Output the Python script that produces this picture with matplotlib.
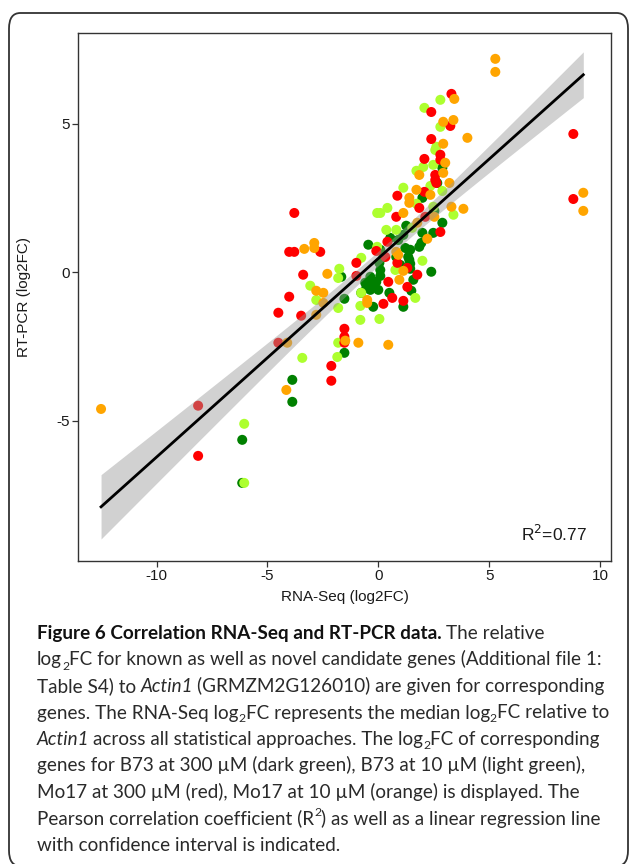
import numpy as np
import matplotlib
matplotlib.use("Agg")
import matplotlib.pyplot as plt
from matplotlib.patches import FancyBboxPatch

# ── data (RNA-Seq log2FC, RT-PCR log2FC) per condition ─────────────────────────
red_x = [3.30, 2.39, 3.25, 2.39, 2.80, 2.80, 2.08, 2.57, 2.57, 2.62, 0.86, 2.08,
         1.85, 0.81, 2.12, 2.80, 0.41, -0.09, 0.32, -0.99, 0.86, 1.31, 1.76, -3.39,
         -0.99, 0.45, 1.31, 0.63, 0.23, 1.13, -3.79, -4.02, -3.79, -2.62, -4.02,
         -4.51, -3.48, -1.53, -1.53, -1.53, -2.12, -2.12, -4.51, -8.13, -8.13,
         8.80, 8.80]
red_y = [6.01, 5.40, 4.93, 4.49, 3.96, 3.79, 3.82, 3.28, 3.11, 3.01, 2.58, 2.71,
         2.17, 1.87, 1.87, 1.36, 1.03, 0.72, 0.52, 0.32, 0.32, 0.15, -0.08, -0.08,
         -0.12, -0.32, -0.49, -0.86, -1.06, -0.96, 2.00, 0.69, 0.69, 0.69, -0.82,
         -1.36, -1.46, -1.90, -2.17, -2.37, -3.15, -3.65, -2.37, -4.49, -6.18,
         4.66, 2.47]

orange_x = [5.28, 5.28, 3.43, 2.93, 3.39, 4.02, 2.93, 3.02, 1.85, 2.93, 3.21, 1.72,
            1.40, 1.40, 3.30, 3.84, 1.13, 2.53, 1.76, 2.21, 0.90, 1.13, 0.95, -0.50,
            -0.50, 0.45, -0.90, -2.30, -3.34, -2.89, -2.89, -2.80, -2.48, -2.48,
            -2.80, -4.11, -4.15, -12.51, 9.25, 9.25, 2.35, 0.81, -1.49]
orange_y = [7.19, 6.75, 5.84, 5.07, 5.13, 4.53, 4.33, 3.69, 3.28, 3.35, 3.01, 2.78,
            2.51, 2.34, 2.21, 2.14, 2.00, 1.87, 1.67, 1.13, 0.59, 0.05, -0.25, -0.93,
            -1.03, -2.44, -2.37, -0.05, 0.79, 0.99, 0.82, -0.62, -0.69, -1.03,
            -1.43, -2.37, -3.96, -4.60, 2.68, 2.07, 2.61, 0.69, -2.30]

lgreen_x = [2.80, 2.08, 2.80, 2.62, 2.57, 2.48, 2.03, 1.72, 1.13, 2.35, 2.89, 1.72,
            2.48, 3.39, -0.05, 0.09, 0.41, 0.36, 0.81, 1.53, -0.05, -0.77, 1.99,
            0.77, -1.76, -1.81, -3.07, -2.80, -0.77, -0.81, -1.81, 1.67, 0.05,
            -0.81, -1.81, -1.85, -3.43, -6.05, -6.05]
lgreen_y = [5.81, 5.54, 4.90, 4.23, 4.12, 3.62, 3.55, 3.42, 2.85, 2.91, 2.74, 2.31,
            2.21, 1.94, 2.00, 2.00, 2.17, 1.43, 1.43, 1.50, 0.86, 0.49, 0.39,
            0.08, 0.12, -0.19, -0.45, -0.93, -0.69, -1.13, -1.20, -0.86, -1.57,
            -1.60, -2.37, -2.85, -2.88, -5.10, -7.09]

dgreen_x = [2.89, 2.66, 1.99, 2.53, 2.89, 1.26, 1.99, 2.48, 1.94, 1.13, 0.54, 0.90,
            -0.45, 1.85, 1.22, 1.44, 0.09, 0.23, 0.81, 1.35, 1.40, 0.99, 0.05, 1.44,
            1.44, 2.39, 0.09, 0.09, 1.58, -0.36, -0.23, -0.36, -0.54, -0.09, -1.67,
            0.50, 1.49, 1.13, -0.23, -1.53, -0.77, -1.53, -3.88, -3.88, -6.14,
            -6.14, -0.59, 0.00]
dgreen_y = [3.52, 3.01, 2.51, 2.07, 1.67, 1.57, 1.33, 1.33, 0.99, 1.26, 1.16, 1.09,
            0.93, 0.86, 0.82, 0.76, 0.76, 0.52, 0.52, 0.52, 0.42, 0.25, 0.32, 0.29,
            0.12, 0.02, 0.08, -0.12, -0.25, -0.15, -0.42, -0.59, -0.52, -0.32, -0.15,
            -0.69, -0.62, -1.16, -1.16, -0.89, -0.69, -2.71, -3.62, -4.36, -5.64,
            -7.09, -0.35, -0.59]

groups = [
    (dgreen_x, dgreen_y, "#008000"),
    (lgreen_x, lgreen_y, "#ADFF2F"),
    (red_x, red_y, "#FF0000"),
    (orange_x, orange_y, "#FFA500"),
]

r2_label = "R$^2$=0.77"
x_ticks = [-10, -5, 0, 5, 10]
y_ticks = [-5, 0, 5]

# ── figure ─────────────────────────────────────────────────────────────────────
W, H = 629, 864
fig = plt.figure(figsize=(W / 100, H / 100), dpi=100)

def fx(px):
    return px / W

def fy(py):
    return 1 - py / H

frame = FancyBboxPatch((fx(9), fy(866)), fx(619), (866 - 13) / H,
                       boxstyle="round,pad=0,rounding_size=0.018",
                       transform=fig.transFigure, fill=False,
                       edgecolor="#333333", lw=1.3, clip_on=False)
fig.patches.append(frame)

ax = fig.add_axes([fx(78), fy(561), fx(611 - 78), (561 - 33) / H])

for xs, ys, col in groups:
    ax.scatter(xs, ys, s=52, color=col, edgecolors="none", zorder=2)

# linear fit with 95% confidence band
x_all = np.concatenate([g[0] for g in groups])
y_all = np.concatenate([g[1] for g in groups])
slope, icpt = np.polyfit(x_all, y_all, 1)
n = len(x_all)
resid = y_all - (slope * x_all + icpt)
s_err = np.sqrt(np.sum(resid ** 2) / (n - 2))
xbar = x_all.mean()
sxx = np.sum((x_all - xbar) ** 2)
xfit = np.linspace(x_all.min(), x_all.max(), 200)
yfit = slope * xfit + icpt
half = 1.97 * s_err * np.sqrt(1 / n + (xfit - xbar) ** 2 / sxx)
ax.fill_between(xfit, yfit - half, yfit + half, color="#999999", alpha=0.45,
                lw=0, zorder=3)
ax.plot(xfit, yfit, color="black", lw=2.0, zorder=4)

ax.set_xlim(-13.55, 10.5)
ax.set_ylim(-9.72, 8.06)
ax.set_xticks(x_ticks)
ax.set_yticks(y_ticks)
ax.set_xticklabels([str(t) for t in x_ticks], family="Liberation Sans", fontsize=11)
ax.set_yticklabels([str(t) for t in y_ticks], family="Liberation Sans", fontsize=11)
ax.tick_params(length=4, width=0.9, color="#333333", labelcolor="#1a1a1a", pad=2)
for sp in ax.spines.values():
    sp.set_color("#333333")
    sp.set_linewidth(1.0)
ax.set_xlabel("RNA-Seq (log2FC)", family="Liberation Sans", fontsize=11,
              color="#1a1a1a", labelpad=5)
ax.set_ylabel("RT-PCR (log2FC)", family="Liberation Sans", fontsize=11,
              color="#1a1a1a", labelpad=18)
ax.text(0.955, 0.032, r2_label, transform=ax.transAxes, ha="right", va="bottom",
        family="Liberation Sans", fontsize=12.5, color="#1a1a1a")

# ── caption ────────────────────────────────────────────────────────────────────
cap_font = "Lato"
cap_size = 13.6
fig.canvas.draw()
renderer = fig.canvas.get_renderer()

def seg_width(txt, **kw):
    t = fig.text(0, 0, txt, **kw)
    w = t.get_window_extent(renderer).width
    t.remove()
    return w

space_w = seg_width("a a", family=cap_font, fontsize=cap_size) - \
    seg_width("aa", family=cap_font, fontsize=cap_size)

def rich_line(py, segments, x0=37):
    x = x0
    for txt, style in segments:
        kw = dict(family=cap_font, fontsize=cap_size, color="#2a2a2a",
                  va="baseline")
        dy = 0
        if style == "b":
            kw["fontweight"] = "bold"
            kw["color"] = "#111111"
        elif style == "i":
            kw["fontstyle"] = "italic"
        elif style == "sub":
            kw["fontsize"] = cap_size * 0.65
            dy = 4
        elif style == "sup":
            kw["fontsize"] = cap_size * 0.65
            dy = -8
        lead = len(txt) - len(txt.lstrip(" "))
        trail = len(txt) - len(txt.rstrip(" "))
        core = txt.strip(" ")
        x += lead * space_w
        if core:
            t = fig.text(fx(x), fy(py + dy), core, **kw)
            x += t.get_window_extent(renderer).width
            if style == "i":
                x -= 1.5
        x += trail * space_w

caption = [
    [("Figure 6 Correlation RNA-Seq and RT-PCR data.", "b"), (" The relative", "n")],
    [("log", "n"), ("2", "sub"),
     ("FC for known as well as novel candidate genes (Additional file 1:", "n")],
    [("Table S4) to ", "n"), ("Actin1", "i"),
     (" (GRMZM2G126010) are given for corresponding", "n")],
    [("genes. The RNA-Seq log", "n"), ("2", "sub"), ("FC represents the median log", "n"),
     ("2", "sub"), ("FC relative to", "n")],
    [("Actin1", "i"), (" across all statistical approaches. The log", "n"),
     ("2", "sub"), ("FC of corresponding", "n")],
    [("genes for B73 at 300 \u00b5M (dark green), B73 at 10 \u00b5M (light green),", "n")],
    [("Mo17 at 300 \u00b5M (red), Mo17 at 10 \u00b5M (orange) is displayed. The", "n")],
    [("Pearson correlation coefficient (R", "n"), ("2", "sup"),
     (") as well as a linear regression line", "n")],
    [("with confidence interval is indicated.", "n")],
]
for i, line in enumerate(caption):
    rich_line(639 + i * 26.5, line)

fig.savefig("out.png", dpi=100)
